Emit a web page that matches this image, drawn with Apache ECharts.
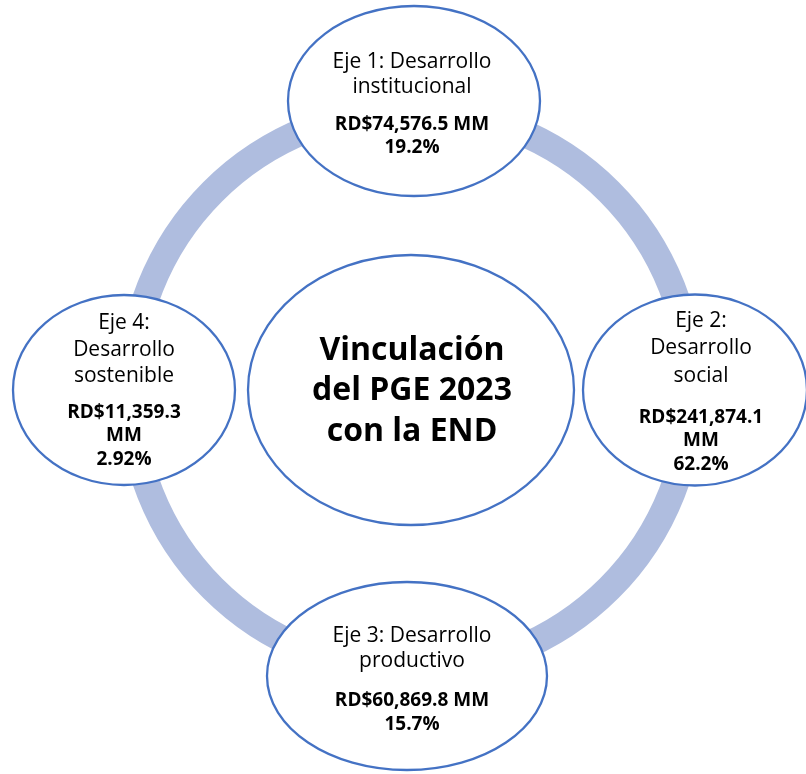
<!DOCTYPE html>
<html><head><meta charset="utf-8">
<script src="https://cdn.jsdelivr.net/npm/echarts/dist/echarts.min.js"></script>
<style>html,body{margin:0;padding:0;background:#fff}#c{width:806px;height:774px}</style>
</head><body><div id="c"></div>
<script>
// ---- data ----
const centerTitle = ['Vinculación', 'del PGE 2023', 'con la END'];
const axisNames = [
  ['Eje 1: Desarrollo', 'institucional'],
  ['Eje 2:', 'Desarrollo', 'social'],
  ['Eje 3: Desarrollo', 'productivo'],
  ['Eje 4:', 'Desarrollo', 'sostenible']
];
const amountsMM = [74576.5, 241874.1, 60869.8, 11359.3];
const sharesPct = [19.2, 62.2, 15.7, 2.92];

// ---- layout / style (not data) ----
const FONT = '"Open Sans", "Noto Sans", sans-serif';
const STROKE = '#4472C4';
const RING_COLOR = '#AFBDDF';
const RING_R = 0.977;      // ring position relative to node radius
const RING_W = 27;
const nodeStyle = [
  {rx: 126, ry: 95,  dx: 3,  dy: -2, tx: -2, ty: -51.5, lh: 25,   gap: 13, amountBreak: false},
  {rx: 112, ry: 95.5,dx: -3, dy: 0,  tx: 6,  ty: -83,   lh: 27.5, gap: 16, amountBreak: true},
  {rx: 140, ry: 94,  dx: -4, dy: -1, tx: 5,  ty: -52,   lh: 25,   gap: 15, amountBreak: false},
  {rx: 111, ry: 95,  dx: 0,  dy: 0,  tx: 0,  ty: -80,   lh: 26.5, gap: 11, amountBreak: true}
];
const centerStyle = {rx: 163, ry: 135};

function richFor(s) {
  return {
    r: {fontFamily: FONT, fontSize: 21, lineHeight: s.lh, color: '#000'},
    g: {fontSize: 1, lineHeight: s.gap},
    b: {fontFamily: FONT, fontSize: 19, fontWeight: 'bold', lineHeight: 23.5, color: '#000'}
  };
}

function fmtAmount(v) {
  return v.toLocaleString('en-US', {minimumFractionDigits: 1, maximumFractionDigits: 1});
}

const n = axisNames.length;
const nodeData = axisNames.map((nm, i) => ({name: nm.join(' '), value: [1, i * 360 / n, amountsMM[i], sharesPct[i]]}));

function renderNode(params, api) {
  const i = params.dataIndex;
  const p = api.coord([api.value(0), api.value(1)]);
  const s = nodeStyle[i];
  const cx = p[0] + s.dx, cy = p[1] + s.dy;
  const amt = 'RD$' + fmtAmount(api.value(2));
  const lines = axisNames[i].map(t => '{r|' + t + '}');
  lines.push('{g| }');
  if (s.amountBreak) { lines.push('{b|' + amt + '}'); lines.push('{b|MM}'); }
  else lines.push('{b|' + amt + ' MM}');
  lines.push('{b|' + api.value(3) + '%}');
  return {type: 'group', children: [
    {type: 'ellipse', shape: {cx: cx, cy: cy, rx: s.rx, ry: s.ry},
     style: {fill: '#fff', stroke: STROKE, lineWidth: 2.3}},
    {type: 'text', x: cx + s.tx, y: cy + s.ty,
     style: {text: lines.join('\n'), rich: richFor(s), align: 'center', verticalAlign: 'top'}}
  ]};
}

function renderRing(params, api) {
  const c = api.coord([0, 0]);
  const p = api.coord([api.value(0), api.value(1)]);
  const r = Math.hypot(p[0] - c[0], p[1] - c[1]);
  return {type: 'circle', shape: {cx: c[0], cy: c[1], r: r},
          style: {fill: 'none', stroke: RING_COLOR, lineWidth: RING_W}};
}

function renderCenter(params, api) {
  const c = api.coord([api.value(0), api.value(1)]);
  return {type: 'group', children: [
    {type: 'ellipse', shape: {cx: c[0], cy: c[1], rx: centerStyle.rx, ry: centerStyle.ry},
     style: {fill: '#fff', stroke: STROKE, lineWidth: 2.3}},
    {type: 'text', x: c[0] + 1, y: c[1] + 1,
     style: {text: centerTitle.join('\n'), fontFamily: FONT, fontSize: 32, fontWeight: 'bold',
             lineHeight: 40.5, fill: '#000', align: 'center', verticalAlign: 'middle'}}
  ]};
}

const chart = echarts.init(document.getElementById('c'), null, {renderer: 'canvas'});
chart.setOption({
  animation: false,
  backgroundColor: '#fff',
  polar: {center: [411, 390], radius: 287},
  angleAxis: {type: 'value', min: 0, max: 360, startAngle: 90, clockwise: true, show: false},
  radiusAxis: {type: 'value', min: 0, max: 1, show: false},
  series: [
    {type: 'custom', coordinateSystem: 'polar', z: 1, renderItem: renderRing, data: [[RING_R, 0]], silent: true},
    {type: 'custom', coordinateSystem: 'polar', z: 2, renderItem: renderNode, data: nodeData},
    {type: 'custom', coordinateSystem: 'polar', z: 3, renderItem: renderCenter, data: [[0, 0]]}
  ]
});
</script>
</body></html>
